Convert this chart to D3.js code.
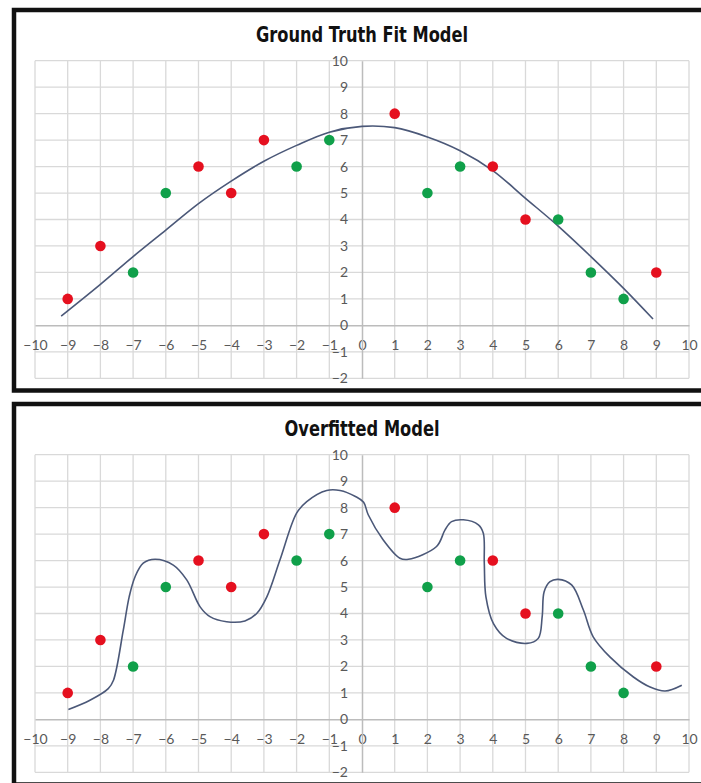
<!DOCTYPE html>
<html>
<head>
<meta charset="utf-8">
<script src="https://cdn.jsdelivr.net/npm/d3@7"></script>
<style>
  body { margin: 0; background: #fff; }
</style>
</head>
<body>
<div id="chart"></div>
<script>
const xTicks = [-10, -9, -8, -7, -6, -5, -4, -3, -2, -1, 0, 1, 2, 3, 4, 5, 6, 7, 8, 9, 10];
const yTicks = [-2, -1, 0, 1, 2, 3, 4, 5, 6, 7, 8, 9, 10];

// same observations in both panels
const redPoints = [[-9, 1], [-8, 3], [-5, 6], [-4, 5], [-3, 7], [1, 8], [4, 6], [5, 4], [9, 2]];
const greenPoints = [[-7, 2], [-6, 5], [-2, 6], [-1, 7], [2, 5], [3, 6], [6, 4], [7, 2], [8, 1]];

// curves
const truthCurve = [
  [-9.2, 0.35], [-8, 1.55], [-7, 2.6], [-6, 3.6], [-5, 4.6], [-4, 5.45], [-3, 6.2],
  [-2, 6.8], [-1, 7.3], [0, 7.52], [1, 7.47], [2, 7.12], [3, 6.6],
  [4, 5.85], [5, 4.8], [6, 3.75], [7, 2.6], [8, 1.4], [8.9, 0.24],
];
const overfitCurve = [
  [-8.98, 0.37], [-8.32, 0.72], [-7.76, 1.16], [-7.6, 1.48], [-7.3, 3.37], [-7.12, 4.63],
  [-6.94, 5.39], [-6.69, 5.9], [-6.33, 6.05], [-5.77, 5.83], [-5.36, 5.27], [-4.95, 4.25],
  [-4.65, 3.88], [-4.14, 3.69], [-3.58, 3.72], [-3.22, 4.0], [-2.91, 4.63], [-2.51, 6.02],
  [-2.0, 7.79], [-1.69, 8.23], [-1.08, 8.65], [-0.67, 8.65], [-0.2, 8.42], [0.05, 8.2],
  [0.19, 7.73], [0.65, 6.78], [1.16, 6.09], [1.42, 6.05], [2.28, 6.53], [2.54, 7.16],
  [2.74, 7.47], [3.1, 7.54], [3.56, 7.35], [3.71, 7.03], [3.74, 5.9], [3.79, 4.63],
  [4.02, 3.62], [4.42, 3.06], [5.04, 2.87], [5.39, 3.06], [5.51, 3.88], [5.57, 4.82],
  [5.75, 5.2], [6.0, 5.29], [6.41, 5.08], [6.77, 4.13], [7.07, 3.12], [7.58, 2.36],
  [8.3, 1.6], [8.81, 1.22], [9.27, 1.07], [9.78, 1.29],
];

const width = 701;
const height = 783;

const svg = d3
  .select('#chart')
  .append('svg')
  .attr('width', width)
  .attr('height', height);

const xScale = d3.scaleLinear().domain([-10, 10]).range([35, 689]);
const yScale = d3.scaleLinear().domain([-2, 10]).range([378.3, 60.7]);

const drawPanel = (top, title, titleWidth, curveData) => {
  const g = svg.append('g').attr('transform', `translate(0, ${top})`);

  g.append('rect')
    .attr('x', 14)
    .attr('y', 10)
    .attr('width', 700)
    .attr('height', 380.5)
    .attr('fill', '#fff')
    .attr('stroke', '#111')
    .attr('stroke-width', 4.5);

  // grid
  g.append('g')
    .selectAll('line')
    .data(xTicks.filter((d) => d !== 0))
    .enter()
    .append('line')
    .attr('x1', (d) => xScale(d))
    .attr('x2', (d) => xScale(d))
    .attr('y1', yScale(-2))
    .attr('y2', yScale(10))
    .attr('stroke', '#d9d9d9')
    .attr('stroke-width', 1.3);

  g.append('g')
    .selectAll('line')
    .data(yTicks.filter((d) => d !== 0))
    .enter()
    .append('line')
    .attr('x1', xScale(-10))
    .attr('x2', xScale(10))
    .attr('y1', (d) => yScale(d))
    .attr('y2', (d) => yScale(d))
    .attr('stroke', '#d9d9d9')
    .attr('stroke-width', 1.3);

  const styleAxis = (ax) => {
    ax.select('.domain').attr('stroke', '#bcbcbc').attr('stroke-width', 1.5);
    ax.selectAll('text')
      .attr('fill', '#595959')
      .style('font-family', 'Lato, "Open Sans", sans-serif')
      .style('font-size', '14px');
  };

  g.append('g')
    .attr('transform', `translate(0, ${yScale(0)})`)
    .call(d3.axisBottom(xScale).tickValues(xTicks).tickSize(0).tickPadding(15))
    .call(styleAxis);

  g.append('g')
    .attr('transform', `translate(${xScale(0)}, 0)`)
    .call(d3.axisLeft(yScale).tickValues(yTicks).tickSize(0).tickPadding(14))
    .call(styleAxis);

  g.append('text')
    .attr('x', 362)
    .attr('y', 42)
    .attr('text-anchor', 'middle')
    .attr('textLength', titleWidth)
    .attr('lengthAdjust', 'spacingAndGlyphs')
    .attr('fill', '#111')
    .style('font-family', '"Liberation Sans Narrow", "DejaVu Sans Condensed", sans-serif')
    .style('font-weight', 'bold')
    .style('font-size', '22px')
    .text(title);

  g.append('path')
    .datum(curveData)
    .attr('fill', 'none')
    .attr('stroke', '#4b5878')
    .attr('stroke-width', 1.6)
    .attr(
      'd',
      d3
        .line()
        .x((d) => xScale(d[0]))
        .y((d) => yScale(d[1]))
        .curve(d3.curveCatmullRom.alpha(0.5)),
    );

  g.append('g')
    .selectAll('circle')
    .data(redPoints)
    .enter()
    .append('circle')
    .attr('cx', (d) => xScale(d[0]))
    .attr('cy', (d) => yScale(d[1]))
    .attr('r', 5.3)
    .attr('fill', '#e5101f');

  g.append('g')
    .selectAll('circle')
    .data(greenPoints)
    .enter()
    .append('circle')
    .attr('cx', (d) => xScale(d[0]))
    .attr('cy', (d) => yScale(d[1]))
    .attr('r', 5.3)
    .attr('fill', '#10a04a');
};

drawPanel(0, 'Ground Truth Fit Model', 212, truthCurve);
drawPanel(394, 'Overfitted Model', 155, overfitCurve);
</script>
</body>
</html>
